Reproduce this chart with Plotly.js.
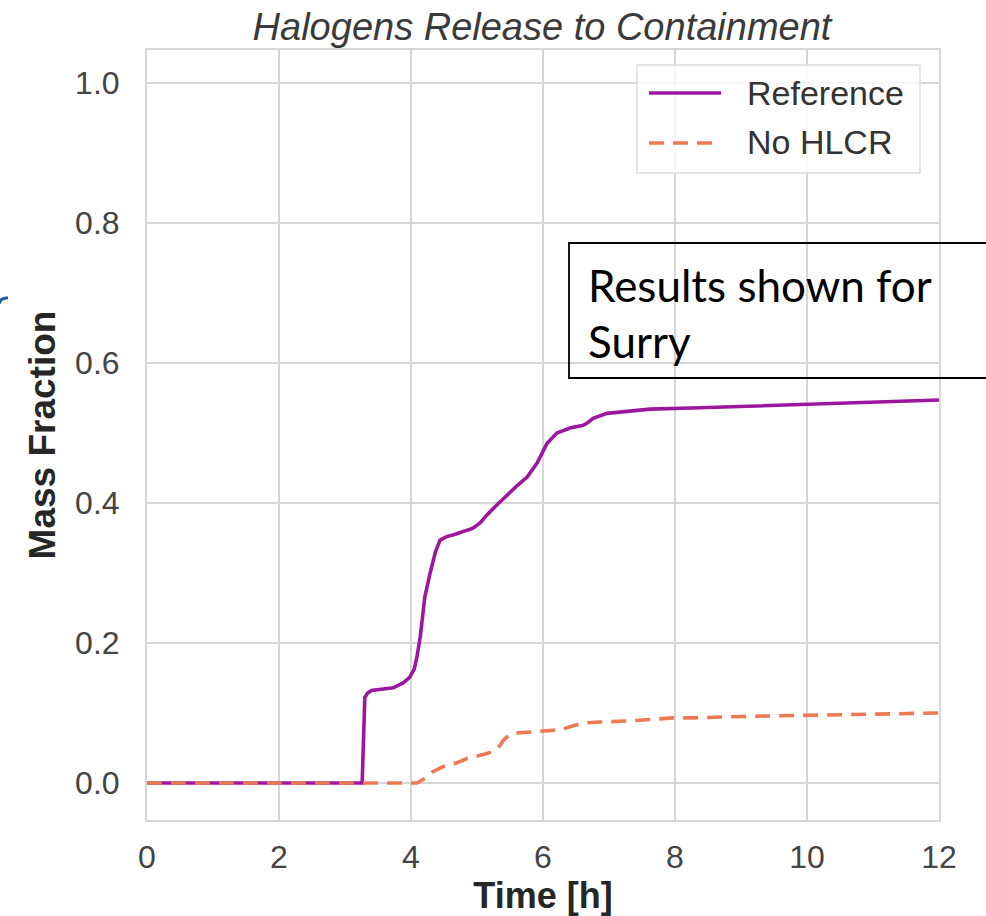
<!DOCTYPE html>
<html>
<head>
<meta charset="utf-8">
<script src="https://cdn.plot.ly/plotly-3.0.1.min.js"></script>
<style>html,body{margin:0;padding:0;background:#fff;}#chart{width:986px;height:916px;}</style>
</head>
<body>
<div id="chart"></div>
<script>
// ---- data ----
const refTime = [0, 3.26, 3.27, 3.28, 3.29, 3.30, 3.34, 3.40, 3.55, 3.73, 3.88, 3.98, 4.05, 4.09, 4.14, 4.21, 4.29, 4.37, 4.44, 4.54, 4.66, 4.79, 4.94, 5.05, 5.15, 5.30, 5.45, 5.60, 5.76, 5.91, 6.06, 6.21, 6.41, 6.61, 6.68, 6.76, 6.97, 7.36, 7.62, 8.38, 9.00, 9.90, 11.00, 12.00];
const refVal  = [0, 0, 0.03, 0.07, 0.109, 0.122, 0.128, 0.132, 0.134, 0.136, 0.143, 0.151, 0.163, 0.180, 0.209, 0.266, 0.300, 0.330, 0.347, 0.352, 0.355, 0.359, 0.364, 0.372, 0.383, 0.397, 0.411, 0.424, 0.437, 0.457, 0.485, 0.500, 0.507, 0.511, 0.515, 0.521, 0.528, 0.531, 0.534, 0.536, 0.538, 0.541, 0.544, 0.547];

const nhTime = [0, 4.09, 4.20, 4.33, 4.50, 4.70, 4.85, 5.00, 5.15, 5.27, 5.35, 5.40, 5.47, 5.55, 5.70, 5.85, 6.00, 6.26, 6.51, 6.67, 6.86, 7.36, 7.97, 8.27, 9.00, 10.00, 11.00, 12.00];
const nhVal  = [0, 0, 0.006, 0.016, 0.024, 0.029, 0.035, 0.038, 0.042, 0.046, 0.054, 0.061, 0.067, 0.071, 0.072, 0.073, 0.074, 0.076, 0.083, 0.086, 0.087, 0.089, 0.093, 0.093, 0.095, 0.097, 0.099, 0.100];

const seriesNames = ["Reference", "No HLCR"];
const seriesColors = ["#9c179e", "#ed7953"];
const xTicks = [0, 2, 4, 6, 8, 10, 12];
const yTicks = [0.0, 0.2, 0.4, 0.6, 0.8, 1.0];
const yTickText = ["0.0", "0.2", "0.4", "0.6", "0.8", "1.0"];
const titleText = "Halogens Release to Containment";
const xTitle = "Time [h]";
const yTitle = "Mass Fraction";
const noteLines = ["Results shown for", "Surry"];

// ---- layout helpers (pixel -> paper) ----
const W = 986, H = 916;
const mL = 147, mR = 47, mT = 50, mB = 96;
const pw = W - mL - mR, ph = H - mT - mB;
const px = v => (v - mL) / pw;
const py = v => (H - mB - v) / ph;

const FONT = "Liberation Sans, Arial, sans-serif";
const LW = 3.6;

const traces = [
  {x: refTime, y: refVal, name: seriesNames[0], type: "scatter", mode: "lines",
   line: {color: seriesColors[0], width: LW}, showlegend: false},
  {x: nhTime, y: nhVal, name: seriesNames[1], type: "scatter", mode: "lines",
   line: {color: seriesColors[1], width: LW, dash: "15px,9px"}, showlegend: false}
];

const gridC = "#d6d6d6";

// small blue stroke fragment at the left edge of the reference (part of a cut-off slide glyph)
const fragPts = [[-1, 303.5], [1, 300], [3.5, 298.5], [8, 297.8]];
const frag = fragPts.map((p, i) => (i ? "L" : "M") + px(p[0]).toFixed(5) + "," + py(p[1]).toFixed(5)).join(" ");

const layout = {
  width: W, height: H,
  margin: {l: mL, r: mR, t: mT, b: mB, pad: 0},
  paper_bgcolor: "#ffffff", plot_bgcolor: "#ffffff",
  font: {family: FONT, color: "#3c3c3c"},
  title: {text: "<i>" + titleText + "</i>", font: {family: FONT, size: 38, color: "#3a3a3a"},
          x: px(542), xref: "paper", xanchor: "center", y: 1 - 27 / H, yref: "container", yanchor: "middle"},
  xaxis: {range: [0, 12], tickvals: xTicks, ticktext: xTicks.map(String),
          showgrid: true, gridcolor: gridC, gridwidth: 1.6, zeroline: false,
          showline: true, linecolor: gridC, linewidth: 2, mirror: true,
          ticks: "", ticklabelstandoff: 8,
          tickfont: {family: FONT, size: 32, color: "#444"},
          title: {text: "<b>" + xTitle + "</b>", font: {family: FONT, size: 36, color: "#262626"}, standoff: 4}},
  yaxis: {range: [-0.0529, 1.0471], tickvals: yTicks, ticktext: yTickText,
          showgrid: true, gridcolor: gridC, gridwidth: 1.6, zeroline: false,
          showline: true, linecolor: gridC, linewidth: 2, mirror: true,
          ticks: "", ticklabelstandoff: 19,
          tickfont: {family: FONT, size: 32, color: "#444"},
          title: {text: "<b>" + yTitle + "</b>", font: {family: FONT, size: 37, color: "#262626"}, standoff: 8}},
  shapes: [
    // legend frame
    {type: "rect", xref: "paper", yref: "paper", x0: px(637), x1: px(920), y0: py(173), y1: py(65),
     line: {color: "#dcdcdc", width: 1.5}, fillcolor: "rgba(255,255,255,0.8)", layer: "above"},
    {type: "line", xref: "paper", yref: "paper", x0: px(649), x1: px(721), y0: py(93), y1: py(93),
     line: {color: seriesColors[0], width: LW}, layer: "above"},
    {type: "line", xref: "paper", yref: "paper", x0: px(649), x1: px(721), y0: py(143), y1: py(143),
     line: {color: seriesColors[1], width: LW, dash: "15px,9px"}, layer: "above"},
    // note box
    {type: "rect", xref: "paper", yref: "paper", x0: px(569), x1: px(1000), y0: py(378), y1: py(243),
     line: {color: "#000000", width: 1.8}, fillcolor: "rgba(0,0,0,0)", layer: "above"},
    {type: "path", xref: "paper", yref: "paper", path: frag,
     line: {color: "#1f5c99", width: 3}, layer: "above"}
  ],
  annotations: [
    {xref: "paper", yref: "paper", x: px(745), y: py(93), xanchor: "left", yanchor: "middle",
     text: seriesNames[0], showarrow: false, font: {family: FONT, size: 34, color: "#333"}},
    {xref: "paper", yref: "paper", x: px(745), y: py(142), xanchor: "left", yanchor: "middle",
     text: seriesNames[1], showarrow: false, font: {family: FONT, size: 34, color: "#333"}},
    {xref: "paper", yref: "paper", x: px(586), y: py(285), xanchor: "left", yanchor: "middle",
     text: noteLines[0], showarrow: false, font: {family: "Lato, sans-serif", size: 44, color: "#000"}},
    {xref: "paper", yref: "paper", x: px(586), y: py(341), xanchor: "left", yanchor: "middle",
     text: noteLines[1], showarrow: false, font: {family: "Lato, sans-serif", size: 44, color: "#000"}}
  ]
};

Plotly.newPlot("chart", traces, layout, {displayModeBar: false, staticPlot: true});
</script>
</body>
</html>
